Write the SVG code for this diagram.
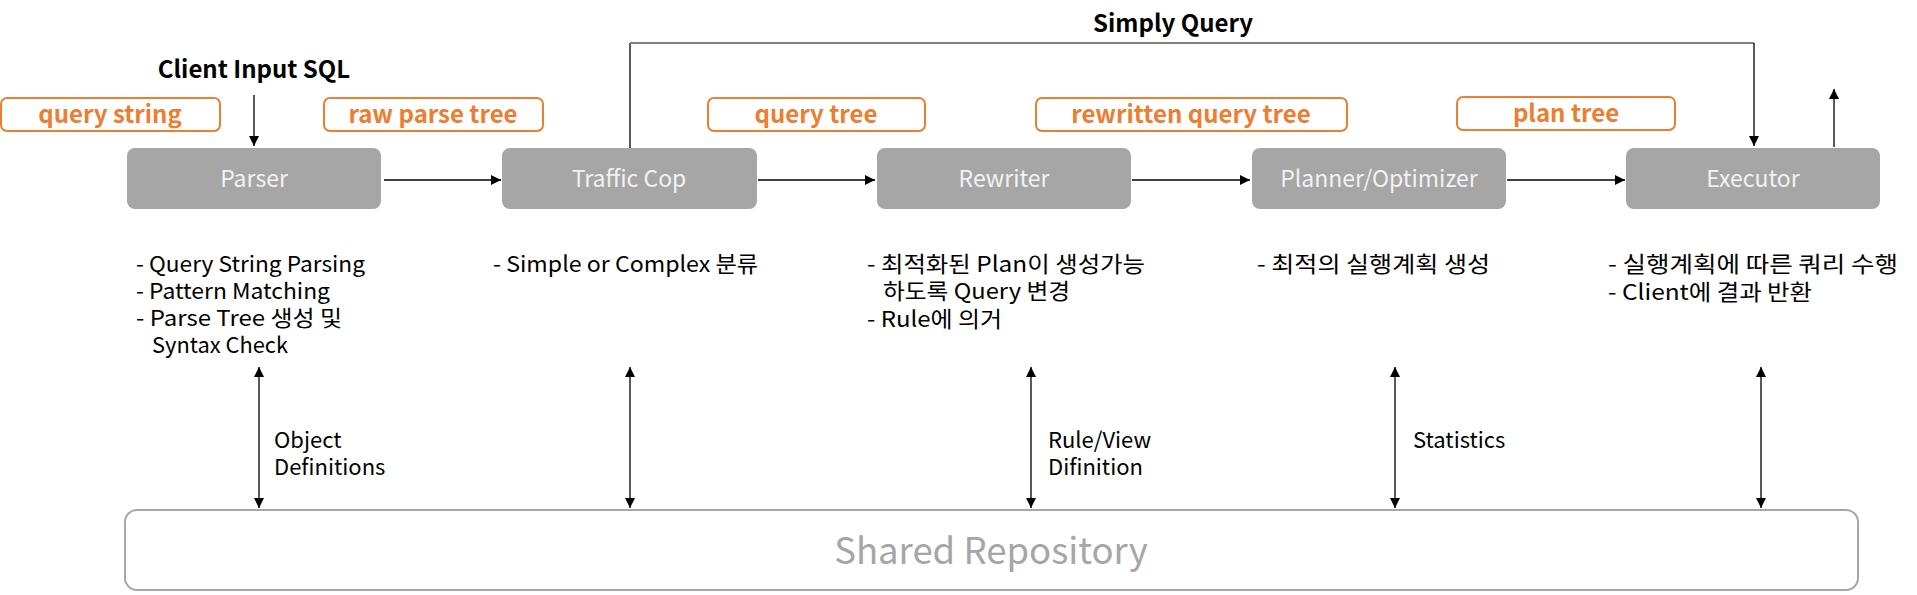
<svg xmlns="http://www.w3.org/2000/svg" width="1917" height="595" viewBox="0 0 1917 595">
<style>
  text { font-family: "Noto Sans CJK KR", "Noto Sans", sans-serif; }
  .node rect { fill: #a6a6a6; }
  .node text { fill: #f2f2f2; font-size: 23px; text-anchor: middle; }
  .tag rect { fill: #ffffff; stroke: #ed7d31; stroke-width: 2; }
  .tag text { fill: #ed7d31; font-size: 24px; font-weight: bold; text-anchor: middle; }
  .desc { fill: #000; font-size: 22px; }
  .lbl { fill: #000; font-size: 22px; }
  .title { fill: #000; font-size: 24px; font-weight: bold; text-anchor: middle; }
  .conn { stroke: #000; stroke-width: 1.3; fill: none; }
</style>
<defs>
  <marker id="ah" viewBox="0 0 10 10" refX="10" refY="5" markerWidth="10" markerHeight="10" markerUnits="userSpaceOnUse" orient="auto-start-reverse">
    <path d="M0,0 L10,5 L0,10 Z" fill="#000"/>
  </marker>
</defs>

<rect width="1917" height="595" fill="#fff"/>

<text class="title" x="254" y="78">Client Input SQL</text>
<text class="title" x="1173" y="32">Simply Query</text>

<g id="tags">
  <g class="tag" id="tag-query-string"><rect x="1" y="98" width="219" height="33" rx="6"/><text x="110" y="123">query string</text></g>
  <g class="tag" id="tag-raw-parse-tree"><rect x="324" y="98" width="219" height="33" rx="6"/><text x="433" y="123">raw parse tree</text></g>
  <g class="tag" id="tag-query-tree"><rect x="708" y="98" width="217" height="33" rx="6"/><text x="816" y="123">query tree</text></g>
  <g class="tag" id="tag-rewritten"><rect x="1036" y="98" width="311" height="33" rx="6"/><text x="1191" y="123">rewritten query tree</text></g>
  <g class="tag" id="tag-plan-tree"><rect x="1457" y="97" width="218" height="33" rx="6"/><text x="1566" y="122">plan tree</text></g>
</g>

<g id="parser" class="node"><rect x="127" y="148" width="254" height="61" rx="8"/><text x="254" y="187">Parser</text></g>
<g id="traffic-cop" class="node"><rect x="502" y="148" width="255" height="61" rx="8"/><text x="629" y="187">Traffic Cop</text></g>
<g id="rewriter" class="node"><rect x="877" y="148" width="254" height="61" rx="8"/><text x="1004" y="187">Rewriter</text></g>
<g id="planner" class="node"><rect x="1252" y="148" width="254" height="61" rx="8"/><text x="1379" y="187">Planner/Optimizer</text></g>
<g id="executor" class="node"><rect x="1626" y="148" width="254" height="61" rx="8"/><text x="1753" y="187">Executor</text></g>

<g id="repository">
  <rect x="125" y="510" width="1733" height="80" rx="12" fill="#fff" stroke="#a6a6a6" stroke-width="2"/>
  <text x="991" y="564" fill="#a6a6a6" font-size="36.5" text-anchor="middle">Shared Repository</text>
</g>

<g id="descriptions">
  <text class="desc" x="136" y="272" textLength="229" lengthAdjust="spacingAndGlyphs">- Query String Parsing</text>
  <text class="desc" x="136" y="299" textLength="194" lengthAdjust="spacingAndGlyphs">- Pattern Matching</text>
  <text class="desc" x="136" y="326" textLength="206" lengthAdjust="spacingAndGlyphs">- Parse Tree 생성 및</text>
  <text class="desc" x="152" y="353" textLength="136" lengthAdjust="spacingAndGlyphs">Syntax Check</text>
  <text class="desc" x="493" y="272" textLength="265" lengthAdjust="spacingAndGlyphs">- Simple or Complex 분류</text>
  <text class="desc" x="867" y="272" textLength="278" lengthAdjust="spacingAndGlyphs">- 최적화된 Plan이 생성가능</text>
  <text class="desc" x="883" y="299" textLength="187" lengthAdjust="spacingAndGlyphs">하도록 Query 변경</text>
  <text class="desc" x="867" y="327" textLength="135" lengthAdjust="spacingAndGlyphs">- Rule에 의거</text>
  <text class="desc" x="1257" y="272" textLength="233" lengthAdjust="spacingAndGlyphs">- 최적의 실행계획 생성</text>
  <text class="desc" x="1608" y="272" textLength="290" lengthAdjust="spacingAndGlyphs">- 실행계획에 따른 쿼리 수행</text>
  <text class="desc" x="1608" y="300" textLength="204" lengthAdjust="spacingAndGlyphs">- Client에 결과 반환</text>
</g>

<g id="connectors">
  <line class="conn" x1="254" y1="95" x2="254" y2="146" marker-end="url(#ah)"/>
  <line class="conn" x1="384" y1="180" x2="501" y2="180" marker-end="url(#ah)"/>
  <line class="conn" x1="758" y1="180" x2="875" y2="180" marker-end="url(#ah)"/>
  <line class="conn" x1="1132" y1="180" x2="1250" y2="180" marker-end="url(#ah)"/>
  <line class="conn" x1="1507" y1="180" x2="1625" y2="180" marker-end="url(#ah)"/>
  <line class="conn" x1="630" y1="148" x2="630" y2="43"/>
  <line x1="630" y1="43" x2="1754" y2="43" stroke="#7f7f7f" stroke-width="2"/>
  <line class="conn" x1="1754" y1="43" x2="1754" y2="146" marker-end="url(#ah)"/>
  <line class="conn" x1="1834" y1="147" x2="1834" y2="89" marker-end="url(#ah)"/>
  <line class="conn" x1="259" y1="367" x2="259" y2="508" marker-start="url(#ah)" marker-end="url(#ah)"/>
  <line class="conn" x1="630" y1="367" x2="630" y2="508" marker-start="url(#ah)" marker-end="url(#ah)"/>
  <line class="conn" x1="1031" y1="367" x2="1031" y2="508" marker-start="url(#ah)" marker-end="url(#ah)"/>
  <line class="conn" x1="1395" y1="367" x2="1395" y2="508" marker-start="url(#ah)" marker-end="url(#ah)"/>
  <line class="conn" x1="1761" y1="367" x2="1761" y2="508" marker-start="url(#ah)" marker-end="url(#ah)"/>
</g>

<g id="connector-labels">
  <text class="lbl" x="274" y="448">Object</text>
  <text class="lbl" x="274" y="475">Definitions</text>
  <text class="lbl" x="1048" y="448">Rule/View</text>
  <text class="lbl" x="1048" y="475">Difinition</text>
  <text class="lbl" x="1413" y="448">Statistics</text>
</g>
</svg>
